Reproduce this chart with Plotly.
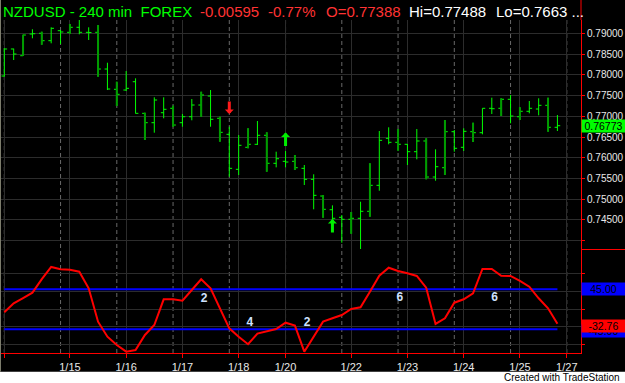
import plotly.graph_objects as go
from plotly.subplots import make_subplots

# ---------------- data ----------------
bar_index = list(range(60))
opens = [0.77971, 0.78622, 0.78460, 0.78983, 0.79000, 0.78822, 0.79063, 0.79024, 0.79145, 0.79024,
         0.79024, 0.78139, 0.77650, 0.77633, 0.77833, 0.77071, 0.76845, 0.77086, 0.77192, 0.76845,
         0.76989, 0.77271, 0.77488, 0.76951, 0.76565, 0.75721, 0.76252, 0.76324, 0.76541, 0.75866,
         0.75914, 0.75914, 0.75745, 0.75480, 0.75077, 0.74747, 0.74564, 0.74516, 0.74540, 0.74709,
         0.75335, 0.76469, 0.76372, 0.76324, 0.76146, 0.76404, 0.75536, 0.75760, 0.76628, 0.76252,
         0.76628, 0.76604, 0.77192, 0.77192, 0.77409, 0.76989, 0.77120, 0.77175, 0.77264, 0.76734]
highs = [0.78639, 0.78630, 0.78965, 0.79097, 0.79039, 0.79145, 0.79080, 0.79224, 0.79338, 0.79145,
         0.79200, 0.78291, 0.77833, 0.78091, 0.77915, 0.77086, 0.77457, 0.77457, 0.77255, 0.77055,
         0.77416, 0.77592, 0.77633, 0.76989, 0.76748, 0.76548, 0.76710, 0.76886, 0.76613, 0.76146,
         0.76162, 0.76066, 0.75825, 0.75601, 0.75101, 0.74853, 0.74619, 0.74692, 0.74940, 0.75866,
         0.76645, 0.76734, 0.76693, 0.76330, 0.76693, 0.76469, 0.76203, 0.76910, 0.76669, 0.76710,
         0.76845, 0.77192, 0.77448, 0.77433, 0.77513, 0.77216, 0.77368, 0.77433, 0.77448, 0.77030]
lows = [0.77954, 0.78356, 0.78453, 0.78880, 0.78725, 0.78759, 0.78742, 0.78983, 0.78976, 0.78839,
        0.77954, 0.77633, 0.77247, 0.77609, 0.77067, 0.76428, 0.76604, 0.76951, 0.76748, 0.76748,
        0.76903, 0.76989, 0.76748, 0.76387, 0.75543, 0.75584, 0.76228, 0.76307, 0.75663, 0.75769,
        0.75769, 0.75704, 0.75343, 0.74757, 0.74554, 0.74323, 0.73952, 0.74169, 0.73800, 0.74578,
        0.75205, 0.76324, 0.76170, 0.75825, 0.75962, 0.75480, 0.75446, 0.75584, 0.76146, 0.76162,
        0.76379, 0.76565, 0.77055, 0.77006, 0.76830, 0.76910, 0.77071, 0.77023, 0.76628, 0.76645]
closes = [0.78622, 0.78501, 0.78959, 0.78990, 0.78822, 0.79121, 0.79032, 0.79145, 0.79024, 0.79020,
          0.78139, 0.77657, 0.77529, 0.77674, 0.77071, 0.76845, 0.77392, 0.77168, 0.76789, 0.76989,
          0.77271, 0.77513, 0.76927, 0.76613, 0.75745, 0.76300, 0.76324, 0.76541, 0.75866, 0.75977,
          0.75897, 0.75760, 0.75480, 0.75094, 0.74757, 0.74540, 0.74516, 0.74540, 0.74709, 0.75335,
          0.76420, 0.76372, 0.76324, 0.76146, 0.76404, 0.75536, 0.75784, 0.76628, 0.76228, 0.76637,
          0.76604, 0.77192, 0.77182, 0.77409, 0.77006, 0.77120, 0.77192, 0.77264, 0.76734, 0.76773]

osc_values = [-6.8, 13.6, 25.5, 37.5, 68, 95.6, 90.4, 89.5, 85, 47.5,
              -28, -62, -80.7, -95.8, -92, -58, -35.5, 22.6, 22.6, 19.4,
              43.6, 67.8, 47.5, 2.3, -43, -62, -79, -55, -50.6, -44.5,
              -30.3, -37, -95.8, -62, -28, -20.3, -12.9, 0.7, 4.5, 39.8,
              75.9, 94, 86.6, 81.4, 75.3, 48.8, -33.2, -20.3, 14.9, 22.6,
              36.2, 91, 91, 75.9, 75.3, 64, 51, 24.9, 2.3, -32.76]
osc_levels = [45, -45]
osc_ticks = [-80, -40, 0, 40, 80]

price_ticks = [0.740, 0.745, 0.750, 0.755, 0.760, 0.765, 0.770, 0.775, 0.780, 0.785, 0.790]
price_tick_text = ["", "0.74500", "0.75000", "0.75500", "0.76000", "0.76500",
                   "0.77000", "0.77500", "0.78000", "0.78500", "0.79000"]

date_tick_index = [0, 7, 13, 19, 25, 30, 37, 43, 49, 55, 60]
date_tick_text = ["", "1/15", "1/16", "1/17", "1/18", "1/20", "1/22", "1/23", "1/24", "1/25", "1/27"]
session_index = [0, 6, 12, 18, 24, 30, 36, 42, 48, 54, 60]

dark_bars = [2, 4, 7, 10, 12, 15, 18, 21, 23, 26, 28, 31, 34, 37, 39, 42, 45, 47, 50, 53, 55, 58]

signal_down_index = [24]
signal_down_price = [0.77055]
signal_up_index = [30, 35]
signal_up_price = [0.76608, 0.74526]

count_label_index = [21.3, 26.2, 32.3, 42.2, 52.3]
count_label_value = [22.6, -31.6, -31.6, 26.2, 26.2]
count_label_text = ["2", "4", "2", "6", "6"]

title_parts = ["NZDUSD - 240 min  FOREX", "-0.00595", "-0.77%", "O=0.77388", "Hi=0.77488", "Lo=0.7663 ..."]

# ---------------- style ----------------
W, H = 625, 383
ML, MR, MT, MB = 0, 44, 20, 30
PW, PH = W - ML - MR, H - MT - MB
bottom_frac = 0.3108
BRIGHT = "#00ff00"
DARK = "#009c00"
GRID = "#2c2c2c"
DASH = "#686868"
AXIS = "#ff0000"
LABEL = "#e8e8e8"
FONT = "Arial, Liberation Sans, sans-serif"

fig = make_subplots(rows=2, cols=1, shared_xaxes=True, vertical_spacing=0,
                    row_heights=[1 - bottom_frac, bottom_frac])

fig.add_trace(go.Ohlc(x=bar_index, open=opens, high=highs, low=lows, close=closes,
                      increasing=dict(line=dict(color=BRIGHT, width=1)),
                      decreasing=dict(line=dict(color=BRIGHT, width=1)),
                      tickwidth=0.3, hoverinfo="skip", showlegend=False), row=1, col=1)

dx, dy = [], []
for i in dark_bars:
    dx += [bar_index[i], bar_index[i], None]
    dy += [lows[i], highs[i], None]
fig.add_trace(go.Scatter(x=dx, y=dy, mode="lines", line=dict(color=DARK, width=2),
                         hoverinfo="skip", showlegend=False), row=1, col=1)

for lev in osc_levels:
    fig.add_trace(go.Scatter(x=[bar_index[0], bar_index[-1]], y=[lev, lev], mode="lines",
                             line=dict(color="#0000ff", width=2), hoverinfo="skip",
                             showlegend=False), row=2, col=1)
fig.add_trace(go.Scatter(x=bar_index, y=osc_values, mode="lines",
                         line=dict(color="#ff0000", width=2), hoverinfo="skip",
                         showlegend=False), row=2, col=1)
fig.add_trace(go.Scatter(x=count_label_index, y=count_label_value, mode="text",
                         text=["<b>%s</b>" % t for t in count_label_text],
                         textfont=dict(color="#cfe2ff", size=12, family=FONT),
                         hoverinfo="skip", showlegend=False), row=2, col=1)

x_left = -4.3 / 9.375
x_right = x_left + PW / 9.375

common_x = dict(range=[x_left, x_right], tickvals=date_tick_index, ticktext=date_tick_text,
                showgrid=True, gridcolor=GRID, gridwidth=1, zeroline=False)
fig.update_xaxes(**common_x)
fig.update_xaxes(row=1, col=1, showticklabels=False, ticks="", rangeslider=dict(visible=False))
fig.update_xaxes(row=2, col=1, showline=True, linecolor=AXIS, linewidth=1, ticks="outside",
                 ticklen=4, tickcolor=AXIS, tickfont=dict(color=LABEL, size=11, family=FONT))

fig.update_yaxes(row=1, col=1, side="right", range=[0.73788, 0.79321], tickvals=price_ticks,
                 ticktext=price_tick_text, showgrid=True, gridcolor=GRID, zeroline=False,
                 showline=True, linecolor=AXIS, ticks="outside", ticklen=3, tickcolor=AXIS,
                 tickfont=dict(color=LABEL, size=10, family=FONT))
fig.update_yaxes(row=2, col=1, side="right", range=[-98.8, 135.1], tickvals=osc_ticks,
                 showticklabels=False, showgrid=True, gridcolor=GRID, zeroline=False,
                 showline=True, linecolor=AXIS, ticks="outside", ticklen=3, tickcolor=AXIS)

shapes = []
for s in session_index:
    shapes.append(dict(type="line", xref="x", yref="paper", x0=s, x1=s, y0=0, y1=1,
                       line=dict(color=DASH, width=1, dash="4px,3px"), layer="between"))
px = 1.0 / PW
py = 1.0 / PH
# right axis separator and top extension
shapes.append(dict(type="line", xref="paper", yref="paper", x0=1, x1=1 + MR * px,
                   y0=bottom_frac, y1=bottom_frac, line=dict(color=AXIS, width=1)))
shapes.append(dict(type="line", xref="paper", yref="paper", x0=1, x1=1,
                   y0=1, y1=1 + MT * py, line=dict(color=AXIS, width=1)))
# bottom white strip
shapes.append(dict(type="rect", xref="paper", yref="paper", x0=0, x1=1 + MR * px,
                   y0=-(MB + 1) * py, y1=-18.7 * py, fillcolor="#ffffff", line=dict(width=0)))
# left frame edge
shapes.append(dict(type="line", xref="paper", yref="paper", x0=0, x1=0,
                   y0=-18.7 * py, y1=1 + MT * py, line=dict(color="#7c7c6c", width=2)))

annotations = []
title_x = [2, 199, 266.5, 325, 408, 495]
title_c = [BRIGHT, "#ff3333", "#ff3333", "#ff3333", "#ffffff", "#ffffff"]
for t, x, c in zip(title_parts, title_x, title_c):
    annotations.append(dict(text=t, xref="paper", yref="paper", x=x * px, y=1 + 9 * py,
                            xanchor="left", yanchor="middle", showarrow=False, borderpad=0,
                            font=dict(color=c, size=15, family=FONT)))

def axis_box(text, yref, yval, bg, yshift=0):
    return dict(text=text, xref="paper", yref=yref, x=1, y=yval, xanchor="left",
                yanchor="middle", showarrow=False, bgcolor=bg, width=MR - 1, height=12,
                borderpad=0, align="center", yshift=yshift,
                font=dict(color="#000000", size=10.5, family=FONT))

annotations.append(axis_box("%.5f" % closes[-1], "y", closes[-1], "#00ff00"))
annotations.append(axis_box("%.2f" % osc_levels[0], "y2", osc_levels[0], "#0000ff"))
annotations.append(axis_box("%.2f" % osc_levels[1], "y2", osc_levels[1], "#0000ff", -2))
annotations.append(axis_box("%.2f" % osc_values[-1], "y2", osc_values[-1], "#ff0000", -2))

for i, p in zip(signal_down_index, signal_down_price):
    annotations.append(dict(x=i, y=p, xref="x", yref="y", text="", showarrow=True,
                            ax=0, ay=-14, arrowhead=1, arrowsize=0.5, arrowwidth=3,
                            arrowcolor="#ff1a1a"))
for i, p in zip(signal_up_index, signal_up_price):
    annotations.append(dict(x=i, y=p, xref="x", yref="y", text="", showarrow=True,
                            ax=0, ay=15, arrowhead=1, arrowsize=0.5, arrowwidth=3,
                            arrowcolor="#00ee00"))

annotations.append(dict(text="Created with TradeStation", xref="paper", yref="paper",
                        x=622 * px, y=-24.5 * py, xanchor="right", yanchor="middle",
                        showarrow=False, font=dict(color="#000000", size=10, family=FONT)))

fig.update_layout(width=W, height=H, margin=dict(l=ML, r=MR, t=MT, b=MB, autoexpand=False),
                  paper_bgcolor="#000000", plot_bgcolor="#000000", showlegend=False,
                  shapes=shapes, annotations=annotations)

fig.write_html("out.html")
